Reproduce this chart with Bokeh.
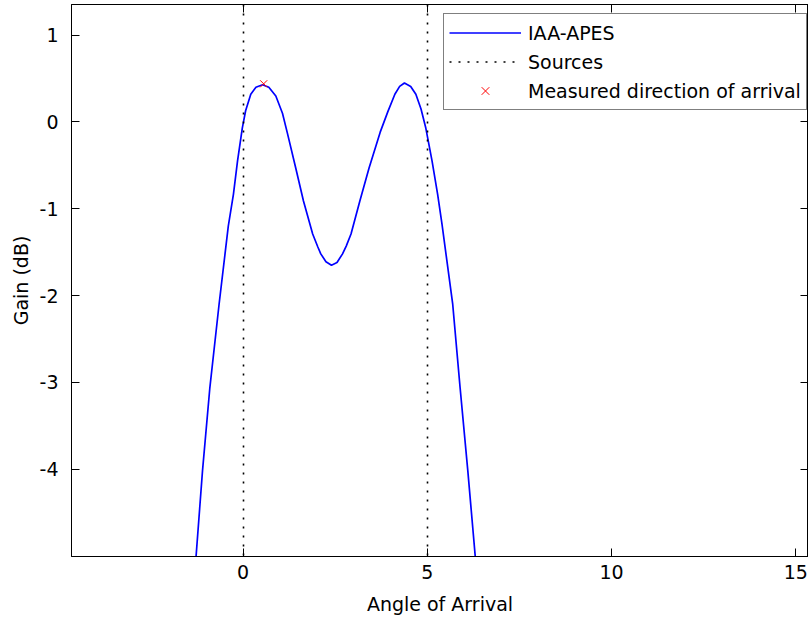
from bokeh.plotting import figure
from bokeh.models import (Range1d, LinearAxis, FixedTicker, CustomJSTickFormatter,
                          Legend, LegendItem)
from bokeh.embed import file_html
from bokeh.resources import INLINE

# ---- data ----
angle = [-1.40, -1.27, -1.10, -0.90, -0.65, -0.40, -0.26, -0.15, -0.02, 0.07,
         0.21, 0.35, 0.53, 0.70, 0.89, 1.07, 1.21, 1.43, 1.64, 1.89,
         2.03, 2.11, 2.25, 2.40, 2.55, 2.70, 2.80, 2.93, 3.17, 3.42, 3.72, 3.93,
         4.12, 4.25, 4.38, 4.55, 4.69, 4.83, 4.96, 5.13, 5.28, 5.40,
         5.69, 5.89, 6.10, 6.30, 6.45]
gain_db = [-5.70, -4.98, -4.02, -3.06, -2.10, -1.20, -0.83, -0.45, -0.07, 0.13,
           0.32, 0.40, 0.43, 0.40, 0.30, 0.10, -0.14, -0.53, -0.91, -1.29,
           -1.44, -1.52, -1.61, -1.65, -1.62, -1.52, -1.43, -1.29, -0.91, -0.53, -0.12, 0.12,
           0.32, 0.41, 0.45, 0.41, 0.32, 0.15, -0.07, -0.45, -0.83, -1.18,
           -2.10, -3.06, -4.02, -5.00, -5.70]
sources = [0, 5]
measured_angle = [0.56]
measured_gain = [0.44]
x_ticks = [0, 5, 10, 15]
y_ticks = [-4, -3, -2, -1, 0, 1]

FONT = "DejaVu Sans"
FS = "19px"

p = figure(width=808, height=621, output_backend="svg", toolbar_location=None,
           x_range=Range1d(-4.655, 15.345), y_range=Range1d(-5.007, 1.354),
           min_border_left=71, min_border_top=4, min_border_bottom=65,
           min_border_right=0, x_axis_location=None, y_axis_location=None,
           background_fill_color="white", border_fill_color="white")
p.grid.visible = False
p.outline_line_color = "black"
p.outline_line_width = 1

plain = CustomJSTickFormatter(code="return tick.toString()")


def style_axis(ax, ticks, labels=True):
    ax.ticker = FixedTicker(ticks=ticks)
    ax.major_tick_in = 8
    ax.major_tick_out = 0
    ax.minor_tick_in = 0
    ax.minor_tick_out = 0
    ax.axis_line_color = "black"
    ax.major_tick_line_color = "black"
    ax.major_label_text_font = FONT
    ax.major_label_text_font_size = FS
    ax.major_label_text_color = "black"
    ax.axis_label_text_font = FONT
    ax.axis_label_text_font_size = FS
    ax.axis_label_text_font_style = "normal"
    ax.axis_label_text_color = "black"
    if labels:
        ax.formatter = plain
    else:
        ax.formatter = CustomJSTickFormatter(code="return ''")
        ax.major_label_standoff = 0
        ax.major_label_text_font_size = "1px"


bottom = LinearAxis(axis_label="Angle of Arrival")
left = LinearAxis(axis_label="Gain (dB)")
top = LinearAxis()
right = LinearAxis()
style_axis(bottom, x_ticks)
style_axis(left, y_ticks)
style_axis(top, x_ticks, labels=False)
style_axis(right, y_ticks, labels=False)
bottom.major_label_standoff = 8
bottom.axis_label_standoff = 11
left.major_label_standoff = 13
left.axis_label_standoff = 5
p.add_layout(bottom, "below")
p.add_layout(left, "left")
p.add_layout(top, "above")
p.add_layout(right, "right")

r_line = p.line(angle, gain_db, line_color="#0000ff", line_width=1.7)
r_src = p.vspan(x=sources, line_color="black", line_width=1.6, line_dash="2 7")
r_meas = p.scatter(measured_angle, measured_gain, marker="x", size=10,
                   line_color="red", line_width=1)

legend = Legend(items=[LegendItem(label="IAA-APES", renderers=[r_line]),
                       LegendItem(label="Sources", renderers=[r_src]),
                       LegendItem(label="Measured direction of arrival", renderers=[r_meas])],
                location=(372, 446), padding=5, spacing=2, margin=0,
                glyph_width=72, glyph_height=27, label_height=27,
                label_standoff=7,
                label_text_font=FONT, label_text_font_size=FS,
                label_text_color="black",
                border_line_color="black", border_line_width=1,
                background_fill_color="white", background_fill_alpha=1)
p.add_layout(legend, "center")

open("out.html", "w").write(file_html(p, INLINE))
